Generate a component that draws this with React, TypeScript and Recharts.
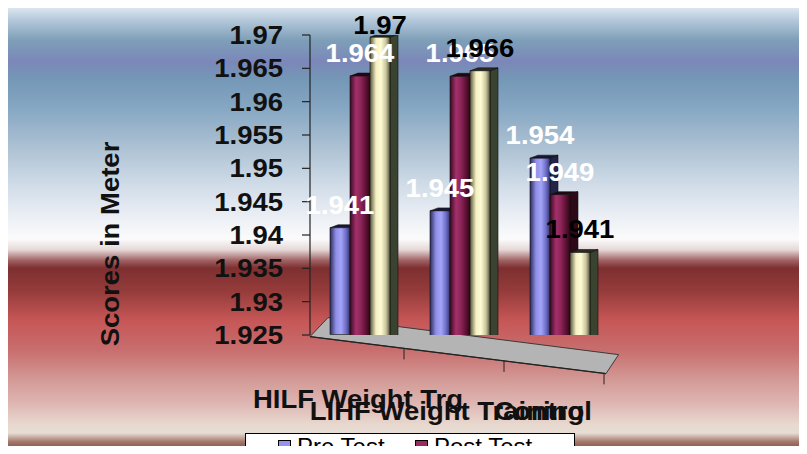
import React from 'react';
import { BarChart, Bar, XAxis, YAxis, ReferenceArea, LabelList, Legend } from 'recharts';

// ---- data ----
const categories = ['HILF Weight Trg', 'LIHF Weight Training', 'Control'];
const preTest = [1.941, 1.945, 1.954];
const postTest = [1.964, 1.965, 1.949];
const thirdTest = [1.97, 1.966, 1.941];
const yTicks = [1.925, 1.93, 1.935, 1.94, 1.945, 1.95, 1.955, 1.96, 1.965, 1.97];
const seriesNames = ['Pre Test', 'Post Test', 'Third Test'];

const data = categories.map((name, i) => ({
  name,
  pre: preTest[i],
  post: postTest[i],
  third: thirdTest[i],
}));

// ---- layout / style ----
const W = 799;
const H = 446;
const FONT = "Arial, 'Liberation Sans', sans-serif";
const STRETCH = 1.1;

// perspective: columns and floor sink a little towards the right
const PROJ = { slope: 0.125, x0: 337, top: 27, height: 300 };
const lift = (x: number, y: number) => {
  const t = (y - PROJ.top) / PROJ.height;
  return y + PROJ.slope * (x - PROJ.x0) * (0.5 + 0.5 * t);
};

const BG = `linear-gradient(to bottom,
  #dce6f0 0%, #b4c8da 2.7%, #7e9fb8 7.2%, #7b87b8 12.1%, #7498b6 16.1%,
  #88a8c4 22.9%, #afc3d4 31.8%, #d0dce8 39.7%, #eaeef4 46.4%, #fbfbfb 51.8%,
  #e6d8d8 54.2%, #a06262 56.6%, #7e2f30 58.3%, #953c3b 63.5%, #c65656 70%,
  #c86e6e 76.7%, #d39a96 83.4%, #dfb8b4 89%, #e8d9d0 93.5%, #e6ddd4 95.3%,
  #a27668 97.3%, #6c3a32 100%)`;

type Skin = { id: string; stops: [number, string][]; side: string; top: string; label: string; swatch: string };
const SKINS: Record<string, Skin> = {
  pre: {
    id: 'gPre',
    stops: [[0, '#2c2c5c'], [0.3, '#8f8fe8'], [0.55, '#a4a4f8'], [0.8, '#6e6ec8'], [1, '#34346a']],
    side: '#22224a',
    top: '#181834',
    label: '#ffffff',
    swatch: '#9494f0',
  },
  post: {
    id: 'gPost',
    stops: [[0, '#3a0a22'], [0.3, '#a3306a'], [0.55, '#8c2458'], [0.8, '#5e1034'], [1, '#2c0818']],
    side: '#2e0818',
    top: '#240614',
    label: '#ffffff',
    swatch: '#9a2a60',
  },
  third: {
    id: 'gThird',
    stops: [[0, '#55553c'], [0.3, '#f4f0c4'], [0.55, '#fffcd4'], [0.8, '#c8c49c'], [1, '#55553c']],
    side: '#3a4230',
    top: '#2a2a20',
    label: '#000000',
    swatch: '#f0ecc0',
  },
};
const SKIN_BY_NAME: Record<string, Skin> = {
  [seriesNames[0]]: SKINS.pre,
  [seriesNames[1]]: SKINS.post,
  [seriesNames[2]]: SKINS.third,
};

function Column3D(props: any) {
  const { x, y, width, height, skin } = props as { x: number; y: number; width: number; height: number; skin: Skin };
  if (!isFinite(x) || !isFinite(y)) return null;
  const cx = x + width / 2;
  const top = lift(cx, y);
  const bottom = lift(cx, y + height);
  const d = 8;
  const dy = -3;
  const r = x + width;
  return (
    <g>
      <polygon
        points={`${r},${top} ${r + d},${top + dy} ${r + d},${bottom + dy} ${r},${bottom}`}
        fill={skin.side}
        stroke="#111"
        strokeWidth={0.6}
      />
      <polygon
        points={`${x},${top} ${x + d},${top + dy} ${r + d},${top + dy} ${r},${top}`}
        fill={skin.top}
        stroke="#111"
        strokeWidth={0.6}
      />
      <rect x={x} y={top} width={width} height={bottom - top} fill={`url(#${skin.id})`} stroke="#111" strokeWidth={0.6} />
    </g>
  );
}

function makeValueTag(color: string) {
  return function ValueTag(props: any) {
    const vb = props.viewBox || {};
    const x = props.x ?? vb.x;
    const y = props.y ?? vb.y;
    const width = props.width ?? vb.width;
    if (x == null || y == null) return null;
    const cx = x + width / 2;
    const base = Math.max(lift(cx, y) - 14, 26);
    return (
      <text
        transform={`translate(${cx},${base}) scale(${STRETCH},1)`}
        textAnchor="middle"
        fontFamily={FONT}
        fontWeight="bold"
        fontSize={25}
        fill={color}
      >
        {props.value}
      </text>
    );
  };
}

function YTick(props: any) {
  const { x, y, payload } = props;
  return (
    <text
      transform={`translate(${x},${y + 9}) scale(${STRETCH},1)`}
      textAnchor="end"
      fontFamily={FONT}
      fontWeight="bold"
      fontSize={25}
      fill="#111"
    >
      {payload.value}
    </text>
  );
}

// category names sit in two staggered rows
const CAT_ROW = [73, 85, 85];
const CAT_NUDGE = [-2, -13, -17];

function XTick(props: any) {
  const { x, y, payload, index } = props;
  return (
    <text
      transform={`translate(${x + CAT_NUDGE[index]},${y + CAT_ROW[index]}) scale(${STRETCH},1)`}
      textAnchor="middle"
      fontFamily={FONT}
      fontWeight="bold"
      fontSize={25}
      fill="#111"
    >
      {payload.value}
    </text>
  );
}

function AxisTitle(props: any) {
  const vb = props.viewBox || { x: 0, y: 27, height: 300 };
  const cx = vb.x + 111;
  const cy = vb.y + vb.height / 2 + 59;
  return (
    <text
      transform={`translate(${cx},${cy}) rotate(-90) scale(${STRETCH},1)`}
      textAnchor="middle"
      fontFamily={FONT}
      fontWeight="bold"
      fontSize={25}
      fill="#111"
    >
      Scores in Meter
    </text>
  );
}

function Floor(props: any) {
  const { x, y, width, height } = props;
  const bottom = y + height;
  const xl = x;
  const xr = x + width - 4;
  const fl = [xl, lift(xl, bottom) + 6];
  const fr = [xr, lift(xr, bottom) + 6];
  const ddx = 18;
  const ddy = -19;
  const band = width / categories.length;
  const ticks = categories.map((_, i) => x + band * (i + 1) - 6);
  return (
    <g>
      <polygon
        points={`${fl[0]},${fl[1]} ${fr[0]},${fr[1]} ${fr[0] + ddx * 0.7},${fr[1] + ddy} ${fl[0] + ddx},${fl[1] + ddy}`}
        fill="#b4b4b4"
        stroke="#3a3a3a"
        strokeWidth={1}
      />
      <line x1={fl[0]} y1={fl[1]} x2={fr[0]} y2={fr[1]} stroke="#222" strokeWidth={1.2} />
      {ticks.map((tx, i) => {
        const ty = lift(tx, bottom) + 6;
        return <line key={i} x1={tx} y1={ty} x2={tx} y2={ty + 11} stroke="#222" strokeWidth={1} />;
      })}
    </g>
  );
}

function LegendBox(props: any) {
  const visible = (props.payload || []).filter((p: any) => p.type !== 'none').map((p: any) => p.value);
  const items = seriesNames.filter((n) => visible.includes(n));
  return (
    <div
      style={{
        position: 'relative',
        width: 330,
        height: 36,
        background: '#fff',
        border: '1px solid #000',
        boxSizing: 'border-box',
        fontFamily: FONT,
        fontSize: 24,
        color: '#000',
      }}
    >
      {items.map((name: string, i: number) => (
        <div key={name} style={{ position: 'absolute', left: 32 + i * 137, top: 0, height: 34 }}>
          <span
            style={{
              position: 'absolute',
              left: 0,
              top: 6,
              width: 11,
              height: 11,
              border: '1px solid #000',
              background: SKIN_BY_NAME[name].swatch,
            }}
          />
          <span style={{ position: 'absolute', left: 19, top: 1, lineHeight: '24px', whiteSpace: 'nowrap' }}>{name}</span>
        </div>
      ))}
    </div>
  );
}

export default function App() {
  return (
    <div style={{ width: W, height: H, marginBottom: -8, overflow: 'hidden', background: BG, position: 'relative' }}>
      <BarChart
        width={W}
        height={H}
        data={data}
        margin={{ top: 27, right: 197, left: 0, bottom: 0 }}
        barCategoryGap="20%"
        barGap={0}
      >
        <defs>
          {Object.values(SKINS).map((s) => (
            <linearGradient key={s.id} id={s.id} x1="0" y1="0" x2="1" y2="0">
              {s.stops.map(([o, c]) => (
                <stop key={o} offset={o} stopColor={c} />
              ))}
            </linearGradient>
          ))}
        </defs>
        <ReferenceArea y1={1.925} y2={1.97} ifOverflow="visible" shape={(p: any) => <Floor {...p} />} />
        <XAxis
          dataKey="name"
          height={119}
          axisLine={false}
          tickLine={false}
          tickSize={0}
          tickMargin={0}
          interval={0}
          tick={<XTick />}
        />
        <YAxis
          width={302}
          domain={[1.925, 1.97]}
          ticks={yTicks}
          allowDataOverflow
          axisLine={{ stroke: '#222', strokeWidth: 1.2 }}
          tickLine={{ stroke: '#222', strokeWidth: 1.2 }}
          tickSize={8}
          tickMargin={19}
          tick={<YTick />}
          label={<AxisTitle />}
        />
        <Legend
          layout="horizontal"
          verticalAlign="middle"
          align="center"
          wrapperStyle={{ left: 237, top: 425, width: 330 }}
          content={<LegendBox />}
        />
        <Bar dataKey="pre" name={seriesNames[0]} fill={SKINS.pre.swatch} isAnimationActive={false}
          shape={(p: any) => <Column3D {...p} skin={SKINS.pre} />}>
          <LabelList dataKey="pre" content={makeValueTag(SKINS.pre.label)} />
        </Bar>
        <Bar dataKey="post" name={seriesNames[1]} fill={SKINS.post.swatch} isAnimationActive={false}
          shape={(p: any) => <Column3D {...p} skin={SKINS.post} />}>
          <LabelList dataKey="post" content={makeValueTag(SKINS.post.label)} />
        </Bar>
        <Bar dataKey="third" name={seriesNames[2]} fill={SKINS.third.swatch} legendType="none" isAnimationActive={false}
          shape={(p: any) => <Column3D {...p} skin={SKINS.third} />}>
          <LabelList dataKey="third" content={makeValueTag(SKINS.third.label)} />
        </Bar>
      </BarChart>
    </div>
  );
}
